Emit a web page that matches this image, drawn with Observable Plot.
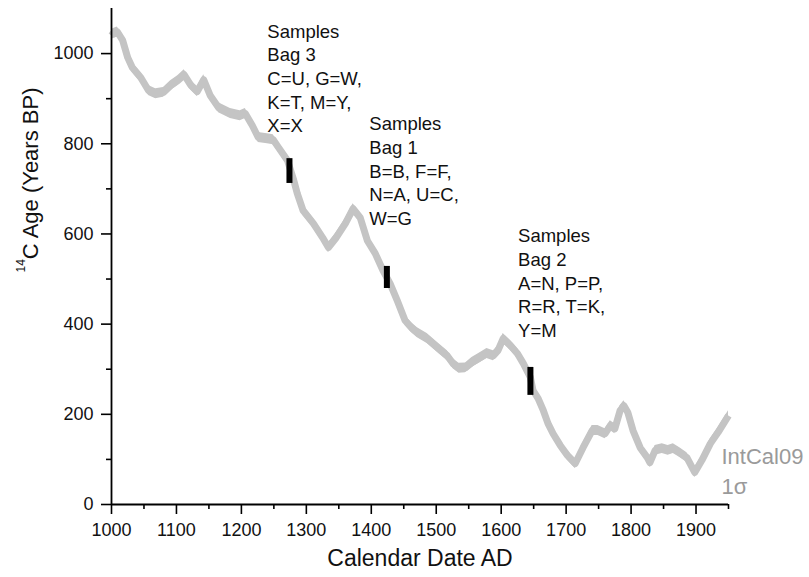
<!DOCTYPE html>
<html>
<head>
<meta charset="utf-8">
<script src="https://cdn.jsdelivr.net/npm/d3@7"></script>
<script src="https://cdn.jsdelivr.net/npm/@observablehq/plot@0.6"></script>
<style>
  html, body { margin: 0; padding: 0; background: #fff; }
  svg { display: block; }
</style>
</head>
<body>
<div id="chart"></div>
<script>
// IntCal09 calibration curve (calendar year AD -> radiocarbon age, years BP)
const years = [1000, 1002, 1009, 1017, 1025, 1032, 1045, 1057, 1068, 1080, 1091, 1102, 1112, 1122, 1132, 1142, 1152, 1165, 1183, 1198, 1206, 1217, 1226, 1240, 1249, 1257, 1271, 1280, 1286, 1295, 1311, 1325, 1334, 1345, 1360, 1372, 1383, 1394, 1406, 1418, 1429, 1440, 1452, 1462, 1471, 1486, 1502, 1517, 1526, 1535, 1545, 1555, 1568, 1578, 1588, 1595, 1603, 1614, 1625, 1634, 1645, 1649, 1657, 1665, 1672, 1680, 1691, 1702, 1714, 1726, 1740, 1749, 1760, 1768, 1775, 1783, 1789, 1795, 1803, 1814, 1825, 1829, 1837, 1848, 1857, 1865, 1875, 1886, 1898, 1909, 1922, 1934, 1950];
const ages = [1040, 1044, 1048, 1030, 991, 969, 947, 918, 911, 914, 929, 940, 953, 930, 916, 942, 907, 880, 867, 862, 867, 840, 814, 811, 809, 792, 763, 722, 690, 652, 623, 592, 570, 590, 623, 656, 636, 585, 557, 519, 490, 452, 408, 392, 381, 368, 348, 330, 312, 302, 303, 315, 326, 335, 330, 341, 368, 353, 335, 313, 282, 253, 235, 208, 180, 157, 131, 109, 91, 126, 164, 164, 157, 175, 168, 208, 219, 204, 164, 126, 104, 93, 120, 124, 120, 124, 115, 104, 71, 98, 135, 160, 197];
const sigma = 11; // 1σ half-width of the band

// Sample bags: calendar position and measured 14C age range
const bagYears = [1274, 1424, 1645];
const bagLow = [712, 479, 242];
const bagHigh = [767, 528, 304];

// Bag annotations
const noteTexts = [
  "Samples\nBag 3\nC=U, G=W,\nK=T, M=Y,\nX=X",
  "Samples\nBag 1\nB=B, F=F,\nN=A, U=C,\nW=G",
  "Samples\nBag 2\nA=N, P=P,\nR=R, T=K,\nY=M"
];
const noteYears = [1240, 1397, 1626];
const noteAges = [1073, 867, 619];

// Axis ticks
const xMajor = [1000, 1100, 1200, 1300, 1400, 1500, 1600, 1700, 1800, 1900];
const xMinor = [1050, 1150, 1250, 1350, 1450, 1550, 1650, 1750, 1850, 1950];
const yMajor = [0, 200, 400, 600, 800, 1000];
const yMinor = [100, 300, 500, 700, 900];

const xTitle = "Calendar Date AD";
const yTitle = "14C Age (Years BP)";
const curveLabel = "IntCal09\n1σ";

const curve = years.map((year, i) => ({year, age: ages[i]}));
const bags = bagYears.map((year, i) => ({year, lo: bagLow[i], hi: bagHigh[i]}));
const notes = noteTexts.map((text, i) => ({text, year: noteYears[i], age: noteAges[i]}));

const band = "#c4c4c4";
const plain = d => String(d);

const chart = Plot.plot({
  width: 809,
  height: 577,
  marginLeft: 111,
  marginRight: 81,
  marginTop: 8,
  marginBottom: 73,
  style: {fontFamily: "'Liberation Sans', Arial, sans-serif", color: "#000", background: "#fff"},
  x: {domain: [1000, 1950]},
  y: {domain: [0, 1100]},
  marks: [
    // calibration band
    Plot.areaY(curve, {x: "year", y1: d => d.age - sigma, y2: d => d.age + sigma, fill: band, curve: "linear"}),
    Plot.line(curve, {x: "year", y: "age", stroke: band, strokeWidth: 7, strokeLinejoin: "round", strokeLinecap: "butt"}),
    // sample bars
    Plot.ruleX(bags, {x: "year", y1: "lo", y2: "hi", stroke: "#000", strokeWidth: 6}),
    // annotations
    Plot.text(notes, {x: "year", y: "age", text: "text", textAnchor: "start", lineAnchor: "top", lineHeight: 1.28, fontSize: 18.5, fill: "#111"}),
    Plot.text([curveLabel], {x: () => 1950, y: () => 137.5, dx: -7, textAnchor: "start", lineAnchor: "top", lineHeight: 1.36, fontSize: 22, fill: "#9a9a9a"}),
    // axes
    Plot.ruleX([1000], {stroke: "#000", strokeWidth: 1.8}),
    Plot.ruleY([0], {stroke: "#000", strokeWidth: 1.8}),
    Plot.axisX(xMajor, {tickSize: 10, tickPadding: 9, fontSize: 18, tickFormat: plain, label: null, stroke: "#000", fill: "#111", strokeWidth: 1.6}),
    Plot.axisX(xMinor, {tickSize: 5, tickFormat: () => "", label: null, stroke: "#000", strokeWidth: 1.6}),
    Plot.axisY(yMajor, {tickSize: 10, tickPadding: 8, fontSize: 18, tickFormat: plain, label: null, stroke: "#000", fill: "#111", strokeWidth: 1.6}),
    Plot.axisY(yMinor, {tickSize: 5, tickFormat: () => "", label: null, stroke: "#000", strokeWidth: 1.6}),
    // axis titles
    Plot.text([xTitle], {frameAnchor: "bottom", dx: 0, dy: 61, fontSize: 23, fill: "#111"}),
    Plot.text([yTitle], {frameAnchor: "left", rotate: -90, dx: -81, dy: 16, fontSize: 22, fill: "#111"})
  ]
});

// superscript mass number in the y-axis title
for (const t of chart.querySelectorAll("text")) {
  if (t.textContent === yTitle) {
    t.textContent = "";
    const ns = "http://www.w3.org/2000/svg";
    const sup = document.createElementNS(ns, "tspan");
    sup.setAttribute("font-size", "12");
    sup.setAttribute("dy", "-13");
    sup.textContent = "14";
    const rest = document.createElementNS(ns, "tspan");
    rest.setAttribute("dy", "13");
    rest.textContent = "C Age (Years BP)";
    t.appendChild(sup);
    t.appendChild(rest);
  }
}

document.getElementById("chart").appendChild(chart);
</script>
</body>
</html>
